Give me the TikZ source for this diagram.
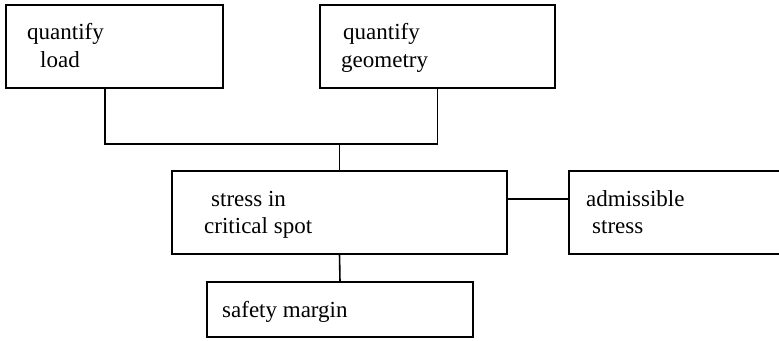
\documentclass[tikz,border=0pt]{standalone}
\usepackage{fontspec}
\setmainfont{Liberation Serif}
\newfontfamily\tnr{Liberation Serif}
\usetikzlibrary{calc}
\begin{document}
\begin{tikzpicture}[x=1pt,y=-1pt,
  box/.style={draw,line width=1.8pt,anchor=north west,inner sep=0pt,outer sep=0pt},
  txt/.style={anchor=base west,inner sep=0pt,font=\tnr\fontsize{23}{27}\selectfont},
  link/.style={line width=1.6pt}]
\useasboundingbox (0,0) rectangle (779,340);
\node[box,minimum width=217pt,minimum height=83pt] (A) at (6,5) {};
\node[box,minimum width=235pt,minimum height=83pt] (B) at (320,5) {};
\node[box,minimum width=335pt,minimum height=83pt] (C) at (172,171) {};
\node[box,minimum width=230pt,minimum height=83pt] (D) at (569,171) {};
\node[box,minimum width=266pt,minimum height=55pt] (E) at (207,282) {};
\node[txt] (a1) at (27,39) {quantify};
\node[txt] (a2) at (40,67) {load};
\node[txt] (b1) at (343,39) {quantify};
\node[txt] (b2) at (341,67) {geometry};
\node[txt] (c1) at (211,206) {stress in};
\node[txt] (c2) at (204,233) {critical spot};
\node[txt] (d1) at (586,206) {admissible};
\node[txt] (d2) at (592,233) {stress};
\node[txt] (e1) at (222,317) {safety margin};
\coordinate (aout) at ($(A.south west)+(99,0)$);
\coordinate (j) at (C.north |- 0,144);
\draw[link] (aout) |- (j) -| (B.south);
\draw[link] (j) -- (C.north);
\draw[link] (C.south) -- (E.north);
\draw[link] (C.east |- 0,199) -- (D.west |- 0,199);
\end{tikzpicture}
\end{document}
